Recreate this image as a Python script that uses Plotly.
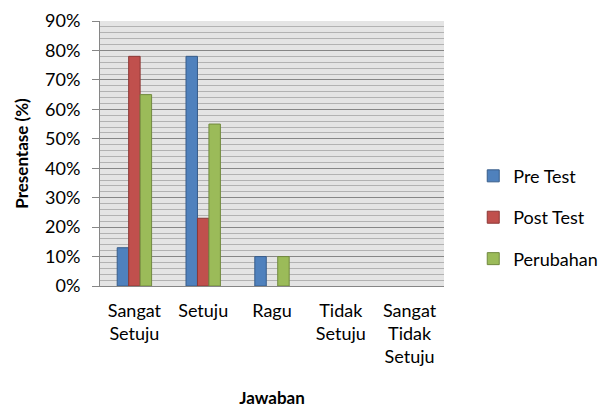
import plotly.graph_objects as go

categories = ["Sangat<br>Setuju", "Setuju", "Ragu", "Tidak<br>Setuju", "Sangat<br>Tidak<br>Setuju"]
pre_test = [13, 78, 10, 0, 0]
post_test = [78, 23, 0, 0, 0]
perubahan = [65, 55, 10, 0, 0]
y_ticks = [0, 10, 20, 30, 40, 50, 60, 70, 80, 90]

font = "Lato, Open Sans, sans-serif"

series = [
    ("Pre Test", pre_test, "#4F81BD", "#385D8A"),
    ("Post Test", post_test, "#C0504D", "#8C3836"),
    ("Perubahan", perubahan, "#9BBB59", "#71893F"),
]

fig = go.Figure()
for name, vals, fill, edge in series:
    fig.add_trace(go.Bar(
        x=categories, y=vals, name=name, legendgroup=name,
        marker=dict(color=fill,
                    line=dict(color=edge, width=[1 if v > 0 else 0 for v in vals])),
    ))

# the page body adds an 8px offset, so margins are trimmed to suit
fig.update_layout(
    width=607, height=407,
    margin=dict(l=92, r=168, t=13, b=129),
    paper_bgcolor="white",
    plot_bgcolor="#e4e4e4",
    font=dict(family=font, size=18, color="black"),
    barmode="group",
    bargap=0.5,
    bargroupgap=0,
    showlegend=True,
    legend=dict(x=1.085, xanchor="left", y=0.258, yanchor="middle",
                font=dict(size=18), tracegroupgap=15, bgcolor="rgba(0,0,0,0)"),
)

fig.update_yaxes(
    range=[0, 90], tickmode="array", tickvals=y_ticks,
    ticktext=[f"{t}%" for t in y_ticks],
    showgrid=True, gridcolor="#868686", gridwidth=1,
    minor=dict(dtick=2, showgrid=True, gridcolor="#b2b2b2", gridwidth=1, ticks=""),
    showline=True, linecolor="#868686", linewidth=1,
    ticks="outside", ticklen=7, tickcolor="#868686",
    ticklabelstandoff=8,
    zeroline=False, automargin=False,
    tickfont=dict(size=18),
    title=dict(text="<b>Presentase (%)</b>", font=dict(size=17), standoff=12),
)
fig.update_xaxes(
    showline=True, linecolor="#868686", linewidth=1,
    showgrid=False, ticks="", automargin=False,
    ticklabelstandoff=8,
    tickfont=dict(size=18),
    title=dict(text="<b>Jawaban</b>", font=dict(size=17), standoff=25),
)

fig.write_html("out.html")
